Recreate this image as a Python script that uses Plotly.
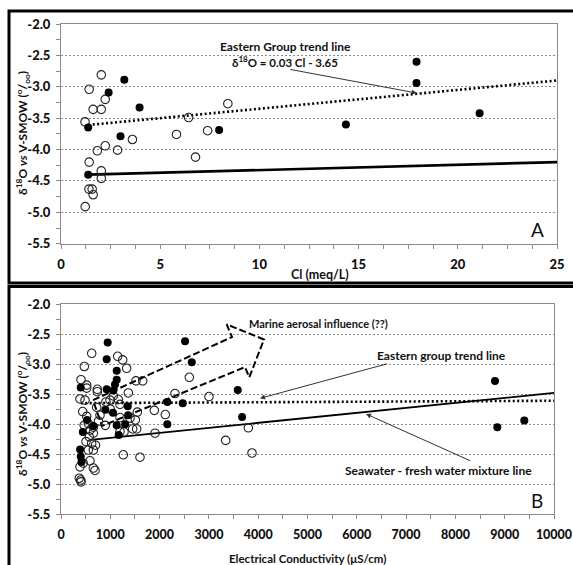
import plotly.graph_objects as go

# ---------------- Panel A : Cl (meq/L) vs d18O ----------------
a_open_cl = [1.42, 2.03, 1.62, 2.03, 2.23, 1.21, 2.23, 1.83, 2.85, 3.60, 1.42, 2.03, 2.03,
             1.41, 1.57, 1.62, 1.22, 5.82, 6.43, 6.78, 7.39, 8.41]
a_open_d18o = [-3.04, -2.81, -3.36, -3.36, -3.20, -3.56, -3.94, -4.02, -4.01, -3.84, -4.20, -4.34, -4.46,
               -4.63, -4.63, -4.72, -4.91, -3.76, -3.49, -4.12, -3.70, -3.27]
a_fill_cl = [3.19, 2.40, 3.96, 1.37, 3.00, 1.37, 7.97, 14.36, 17.92, 17.92, 21.10]
a_fill_d18o = [-2.89, -3.09, -3.33, -3.65, -3.79, -4.40, -3.69, -3.60, -2.60, -2.94, -3.42]

a_trend_cl = [1.37, 25.0]
a_trend_slope = 0.03
a_trend_intercept = -3.65
a_mix_cl = [1.37, 25.0]
a_mix_d18o = [-4.40, -4.20]

# ---------------- Panel B : Electrical conductivity vs d18O ----------------
b_open_ec = [623, 1150, 1251, 1332, 473, 406, 521, 521, 737, 737, 1366, 1521, 1657, 385, 487,
             2312, 2603, 3002, 1893, 2116, 440, 521, 724, 912, 994, 1061, 1163, 1197, 791, 1400,
             1508, 1548, 1197, 899, 1278, 1454, 1535, 1907, 1264, 1602, 3340, 3800, 3874, 554,
             656, 588, 656, 574, 507, 622, 656, 554, 588, 385, 656, 690, 371, 400, 406, 1197,
             450, 700, 470, 760, 1000]
b_open_d18o = [-2.82, -2.87, -2.93, -3.07, -3.04, -3.26, -3.35, -3.40, -3.42, -3.46, -3.48, -3.28,
               -3.28, -3.58, -3.60, -3.49, -3.22, -3.54, -3.77, -3.84, -3.79, -3.87, -3.72, -3.63,
               -3.60, -3.53, -3.59, -3.67, -3.85, -3.90, -3.93, -3.80, -3.89, -4.02, -4.13, -4.08,
               -4.08, -4.15, -4.51, -4.55, -4.27, -4.06, -4.48, -3.99, -4.05, -4.10, -4.15, -4.21,
               -4.29, -4.32, -4.43, -4.43, -4.61, -4.71, -4.73, -4.77, -4.90, -4.93, -4.96, -4.12,
               -4.65, -4.35, -4.02, -3.95, -3.75]
b_fill_ec = [947, 927, 1130, 1130, 1095, 400, 927, 1061, 1354, 900, 1055, 1360, 1130, 1300, 1170,
             530, 656, 442, 388, 401, 415, 2156, 2156, 2517, 2653, 2469, 3585, 3673, 8803, 8850, 9398]
b_fill_d18o = [-2.64, -2.92, -3.11, -3.26, -3.34, -3.39, -3.42, -3.44, -3.70, -3.76, -3.81, -3.85,
               -4.02, -4.00, -4.18, -3.93, -4.03, -4.13, -4.42, -4.54, -4.63, -3.63, -4.00, -2.62,
               -2.97, -3.65, -3.43, -3.88, -3.28, -4.05, -3.94]

b_trend_ec = [400, 10000]
b_trend_d18o = [-3.65, -3.61]
b_mix_ec = [600, 10000]
b_mix_d18o = [-4.26, -3.48]
# outline of the dashed "marine aerosol" block arrow
b_arrow_ec = [649, 3469, 3361, 4118, 3819, 3732, 832, 649]
b_arrow_d18o = [-3.60, -2.55, -2.34, -2.59, -3.22, -3.05, -4.03, -3.60]

# ---------------- ticks ----------------
y_ticks = [-2.0, -2.5, -3.0, -3.5, -4.0, -4.5, -5.0, -5.5]
y_tick_labels = ["-2.0", "-2.5", "-3.0", "-3.5", "-4.0", "-4.5", "-5.0", "-5.5"]
y_minor = [-2.25, -2.75, -3.25, -3.75, -4.25, -4.75, -5.25]
a_x_ticks = [0, 5, 10, 15, 20, 25]
a_x_labels = ["0", "5", "10", "15", "20", "25"]
a_x_minor = [1.25 * i for i in range(1, 20) if i % 4 != 0]
b_x_ticks = [0, 1000, 2000, 3000, 4000, 5000, 6000, 7000, 8000, 9000, 10000]
b_x_labels = [str(v) for v in b_x_ticks]
b_x_minor = [500 + 1000 * i for i in range(10)]

W, H = 573, 565
FONT = "Lato"
TXT = "#111111"


def px(x):
    return x / W


def py(y):
    return 1 - y / H


def b(s):
    return "<b>" + s + "</b>"


fig = go.Figure()

open_marker = dict(symbol="circle-open", size=8.5, color="#222", line=dict(width=1.1, color="#222"))
fill_marker = dict(symbol="circle", size=8, color="black")

# Panel A traces
fig.add_trace(go.Scatter(x=a_mix_cl, y=a_mix_d18o, mode="lines", line=dict(color="black", width=2.6),
                         xaxis="x", yaxis="y", hoverinfo="skip"))
fig.add_trace(go.Scatter(x=a_trend_cl, y=[a_trend_slope * c + a_trend_intercept for c in a_trend_cl],
                         mode="lines", line=dict(color="black", width=2.6, dash="2px,2.5px"),
                         xaxis="x", yaxis="y"))
fig.add_trace(go.Scatter(x=a_open_cl, y=a_open_d18o, mode="markers", marker=open_marker, xaxis="x", yaxis="y"))
fig.add_trace(go.Scatter(x=a_fill_cl, y=a_fill_d18o, mode="markers", marker=fill_marker, xaxis="x", yaxis="y"))

# Panel B traces
fig.add_trace(go.Scatter(x=b_mix_ec, y=b_mix_d18o, mode="lines", line=dict(color="black", width=1.8),
                         xaxis="x2", yaxis="y2"))
fig.add_trace(go.Scatter(x=b_trend_ec, y=b_trend_d18o, mode="lines",
                         line=dict(color="black", width=2.6, dash="2px,2.5px"), xaxis="x2", yaxis="y2"))
fig.add_trace(go.Scatter(x=b_arrow_ec, y=b_arrow_d18o, mode="lines",
                         line=dict(color="black", width=2, dash="7px,3px"), xaxis="x2", yaxis="y2"))
fig.add_trace(go.Scatter(x=b_open_ec, y=b_open_d18o, mode="markers", marker=open_marker, xaxis="x2", yaxis="y2"))
fig.add_trace(go.Scatter(x=b_fill_ec, y=b_fill_d18o, mode="markers", marker=fill_marker, xaxis="x2", yaxis="y2"))

tickfont = dict(family=FONT, size=13, color=TXT, weight=900)
axis_common = dict(showline=True, mirror=True, linecolor="#8a8a8a", linewidth=1, ticks="outside",
                   ticklen=4, tickcolor="#8a8a8a", tickfont=tickfont, zeroline=False, tickmode="array",
                   automargin=False)

yaxis_common = dict(axis_common, range=[-5.5, -2.0], tickvals=y_ticks, ticktext=y_tick_labels,
                    showgrid=True, gridcolor="#8c8c8c", griddash="2px,2px", gridwidth=1, ticklabelstandoff=3,
                    minor=dict(tickmode="array", tickvals=y_minor, ticks="outside", ticklen=4,
                               tickcolor="#8a8a8a", showgrid=False))

fig.update_layout(
    width=W, height=H, margin=dict(l=0, r=0, t=0, b=0, autoexpand=False),
    paper_bgcolor="white", plot_bgcolor="white", showlegend=False,
    xaxis=dict(axis_common, domain=[px(61), px(557)], range=[0, 25], anchor="y",
               tickvals=a_x_ticks, ticktext=a_x_labels, showgrid=False, ticklabelstandoff=5,
               ticklabeloverflow="allow",
               minor=dict(tickmode="array", tickvals=a_x_minor, ticks="outside", ticklen=4,
                          tickcolor="#8a8a8a", showgrid=False)),
    yaxis=dict(yaxis_common, domain=[py(243.7), py(24)], anchor="x"),
    xaxis2=dict(axis_common, domain=[px(61), px(554)], range=[0, 10000], anchor="y2",
                tickvals=b_x_ticks, ticktext=b_x_labels, showgrid=False, ticklabelstandoff=5,
                ticklabeloverflow="allow", tickfont=dict(tickfont, size=12.5),
                minor=dict(tickmode="array", tickvals=b_x_minor, ticks="outside", ticklen=4,
                           tickcolor="#8a8a8a", showgrid=False)),
    yaxis2=dict(yaxis_common, domain=[py(514.3), py(304)], anchor="x2"),
)

# panel frames
fig.add_shape(type="rect", xref="paper", yref="paper", x0=px(9), x1=1.02, y0=py(283), y1=py(11),
              line=dict(color="black", width=3), layer="above")
fig.add_shape(type="rect", xref="paper", yref="paper", x0=px(9), x1=1.02, y0=-0.02, y1=py(286.5),
              line=dict(color="black", width=3), layer="above")

fnt = dict(family=FONT, size=12, color=TXT)
ylab = b("δ<sup>18</sup>O <i>vs</i> V-SMOW (<sup>o</sup>/<sub>oo</sub>)")
C = dict(xanchor="center", yanchor="middle", showarrow=False)
anns = [
    # axis titles
    dict(C, text=b("Cl (meq/L)"), x=px(320), y=py(274), xref="paper", yref="paper",
         font=dict(fnt, size=12.5)),
    dict(C, text=ylab, x=px(23), y=py(133), xref="paper", yref="paper",
         textangle=-90, font=dict(fnt, size=12)),
    dict(C, text=b("Electrical Conductivity (μS/cm)"), x=px(307), y=py(558), xref="paper", yref="paper",
         font=dict(fnt, size=11.5)),
    dict(C, text=ylab, x=px(23), y=py(414), xref="paper", yref="paper",
         textangle=-90, font=dict(fnt, size=12)),
    # panel letters
    dict(C, text="A", x=px(537), y=py(230), xref="paper", yref="paper",
         font=dict(family=FONT, size=19, color=TXT)),
    dict(C, text="B", x=px(537), y=py(500), xref="paper", yref="paper",
         font=dict(family=FONT, size=19, color=TXT)),
    # panel A labels
    dict(C, text=b("Eastern Group trend line"), x=11.3, y=-2.36, xref="x", yref="y", font=fnt),
    dict(C, text=b("δ<sup>18</sup>O = 0.03 Cl - 3.65"), x=11.3, y=-2.60, xref="x", yref="y",
         font=dict(fnt, size=11.5)),
    dict(text="", x=17.93, y=-3.10, ax=11.49, ay=-2.72, xref="x", yref="y", axref="x", ayref="y",
         showarrow=True, arrowhead=2, arrowsize=1, arrowwidth=1, arrowcolor="#333"),
    # panel B labels
    dict(text=b("Marine aerosal influence (??)"), x=3770, y=-2.32, xref="x2", yref="y2", xanchor="left",
         yanchor="middle", showarrow=False, font=dict(fnt, size=11)),
    dict(C, text=b("Eastern group trend line"), x=7722, y=-2.85, xref="x2", yref="y2", font=fnt),
    dict(text="", x=4037, y=-3.57, ax=6639, ay=-2.99, xref="x2", yref="y2", axref="x2", ayref="y2",
         showarrow=True, arrowhead=2, arrowsize=1, arrowwidth=1, arrowcolor="#333"),
    dict(C, text=b("Seawater - fresh water mixture line"), x=7667, y=-4.77, xref="x2", yref="y2", font=fnt),
    dict(text="", x=6187, y=-3.83, ax=8331, ay=-4.62, xref="x2", yref="y2", axref="x2", ayref="y2",
         showarrow=True, arrowhead=2, arrowsize=1, arrowwidth=1, arrowcolor="#333"),
]
fig.update_layout(annotations=anns)

fig.write_html("out.html", config={"displayModeBar": False},
               post_script="document.body.style.margin='0';")
